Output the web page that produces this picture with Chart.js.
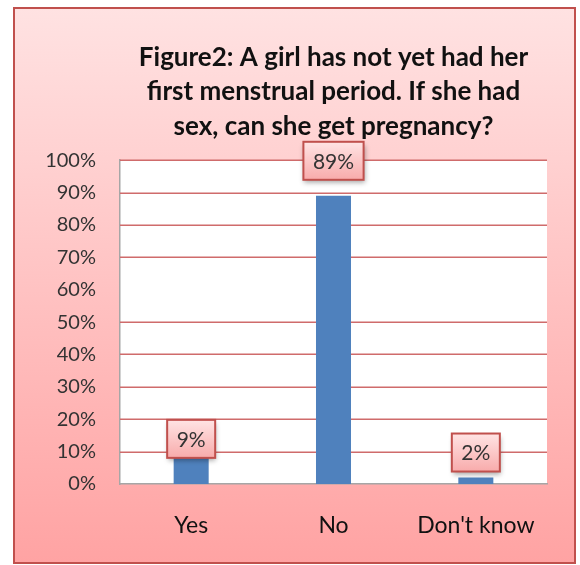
<!DOCTYPE html>
<html>
<head>
<meta charset="utf-8">
<script src="https://cdn.jsdelivr.net/npm/chart.js@4/dist/chart.umd.min.js"></script>
<style>
  html, body { margin: 0; padding: 0; background: #fff; }
  #wrap { width: 580px; height: 565px; position: relative; }
</style>
</head>
<body>
<div id="wrap"><canvas id="myChart"></canvas></div>
<script>
// chart data
var categories = ['Yes', 'No', "Don't know"];
var percents = [9, 89, 2];
var yTicks = [0, 10, 20, 30, 40, 50, 60, 70, 80, 90, 100];
var titleLines = ['Figure2: A girl has not yet had her', 'first menstrual period. If she had', 'sex, can she get pregnancy?'];

// how far each label box sits above its bar (px)
var labelLift = [16, 35, 25];

// background + white plot area
var bgPlugin = {
  id: 'bg',
  beforeDraw: function(chart) {
    var ctx = chart.ctx;
    var a = chart.chartArea;
    ctx.save();
    ctx.fillStyle = '#ffffff';
    ctx.fillRect(0, 0, chart.width, chart.height);
    var g = ctx.createLinearGradient(0, 8, 0, 563);
    g.addColorStop(0, '#FFE2E2');
    g.addColorStop(1, '#FFA3A3');
    ctx.fillStyle = g;
    ctx.fillRect(14, 8, 561, 555);
    ctx.strokeStyle = '#C0504D';
    ctx.lineWidth = 2;
    ctx.strokeRect(14, 8, 561, 555);
    ctx.fillStyle = '#ffffff';
    ctx.fillRect(a.left, a.top, a.right - a.left, a.bottom - a.top);
    ctx.restore();
  }
};

// boxed value labels
var boxLabels = {
  id: 'boxLabels',
  afterDatasetsDraw: function(chart) {
    var ctx = chart.ctx;
    var meta = chart.getDatasetMeta(0);
    ctx.save();
    ctx.font = '21px Lato';
    meta.data.forEach(function(bar, i) {
      var txt = percents[i] + '%';
      var w = ctx.measureText(txt).width + 19;
      var h = 38;
      var cx = bar.x;
      var cy = bar.y - labelLift[i];
      var x = cx - w / 2, y = cy - h / 2;
      ctx.save();
      ctx.shadowColor = 'rgba(0,0,0,0.35)';
      ctx.shadowBlur = 5;
      ctx.shadowOffsetX = 1;
      ctx.shadowOffsetY = 3;
      var g = ctx.createLinearGradient(0, y, 0, y + h);
      g.addColorStop(0, '#FFE4E4');
      g.addColorStop(1, '#F8ABAB');
      ctx.fillStyle = g;
      ctx.fillRect(x, y, w, h);
      ctx.restore();
      ctx.strokeStyle = '#C0504D';
      ctx.lineWidth = 2;
      ctx.strokeRect(x, y, w, h);
      ctx.fillStyle = '#333333';
      ctx.textAlign = 'center';
      ctx.textBaseline = 'middle';
      ctx.fillText(txt, cx, cy + 1);
    });
    ctx.restore();
  }
};

// the 60% gridline is absent in the original, so draw the grid ourselves
var gridPlugin = {
  id: 'redGrid',
  beforeDatasetsDraw: function(chart) {
    var ctx = chart.ctx;
    var y = chart.scales.y;
    var a = chart.chartArea;
    ctx.save();
    ctx.strokeStyle = '#CF6B6B';
    ctx.lineWidth = 1.5;
    yTicks.forEach(function(v) {
      if (v === 0 || v === 60) return;
      var py = Math.round(y.getPixelForValue(v)) + 0.25;
      ctx.beginPath();
      ctx.moveTo(a.left, py);
      ctx.lineTo(a.right, py);
      ctx.stroke();
    });
    ctx.restore();
  }
};

const ctx = document.getElementById('myChart').getContext('2d');
const myChart = new Chart(ctx, {
  type: 'bar',
  data: {
    labels: categories,
    datasets: [{
      data: percents,
      backgroundColor: '#4F81BD',
      borderWidth: 0,
      barPercentage: 0.246,
      categoryPercentage: 1
    }]
  },
  options: {
    responsive: true,
    maintainAspectRatio: false,
    animation: false,
    layout: { padding: { top: 0, left: 0, right: 33, bottom: 0 } },
    plugins: {
      legend: { display: false },
      tooltip: { enabled: false },
      title: {
        display: true,
        fullSize: false,
        text: titleLines,
        color: '#111111',
        font: { family: 'Lato', size: 26, weight: 'bold', lineHeight: 1.31 },
        padding: { top: 41, bottom: 17 }
      }
    },
    scales: {
      x: {
        grid: { display: false, drawTicks: false },
        border: { color: '#A6A6A6', width: 1.5 },
        ticks: {
          color: '#111111',
          font: { family: 'Lato', size: 23 },
          padding: 28
        },
        afterFit: function(scale) { scale.height = 81; }
      },
      y: {
        min: 0,
        max: 100,
        afterBuildTicks: function(scale) {
          scale.ticks = yTicks.map(function(v) { return { value: v }; });
        },
        grid: { display: false, drawTicks: false },
        border: { color: '#A6A6A6', width: 1.5 },
        ticks: {
          color: '#333333',
          font: { family: 'Lato', size: 20 },
          padding: 24,
          callback: function(v) { return v + '%'; }
        },
        afterFit: function(scale) { scale.width = 120; }
      }
    }
  },
  plugins: [bgPlugin, gridPlugin, boxLabels]
});
</script>
</body>
</html>
